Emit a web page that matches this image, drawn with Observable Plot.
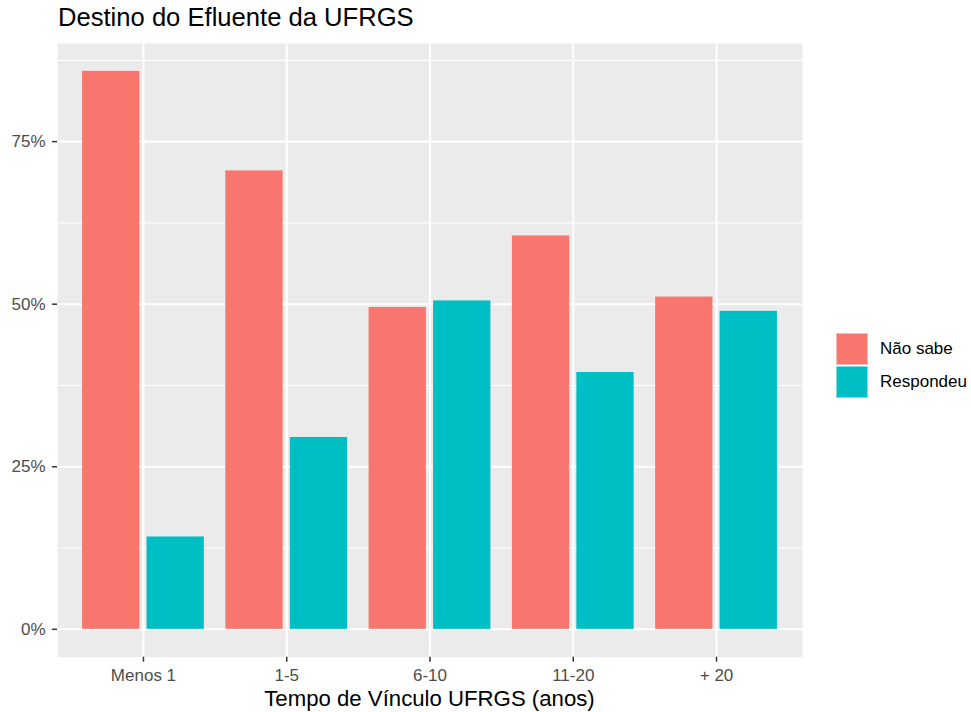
<!DOCTYPE html>
<html>
<head>
<meta charset="utf-8">
<script src="https://cdn.jsdelivr.net/npm/d3@7"></script>
<script src="https://cdn.jsdelivr.net/npm/@observablehq/plot@0.6"></script>
<style>
  body { margin: 0; background: #fff; font-family: "Liberation Sans", Arial, sans-serif; }
  #wrap { position: relative; width: 971px; height: 712px; overflow: hidden; }
  #title { height: 35px; line-height: 35px; padding-left: 58px; font-size: 25.6px; color: #000; white-space: nowrap; }
  #chart svg { display: block; }
  #xlabel { position: absolute; left: 57px; top: 686px; width: 745px; height: 26px; line-height: 26px; font-size: 22.2px; text-align: center; color: #000; white-space: nowrap; }
  #legend { position: absolute; left: 836px; top: 332px; }
  .item { display: flex; align-items: center; height: 33px; }
  .sw { width: 32px; height: 32px; box-sizing: border-box; border: 1px solid rgba(255,255,255,0.5); }
  .lab { margin-left: 12px; font-size: 17px; color: #000; white-space: nowrap; }
</style>
</head>
<body>
<div id="wrap">
  <div id="title"></div>
  <div id="chart"></div>
  <div id="xlabel"></div>
  <div id="legend"></div>
</div>
<script>
// ---- data ----
const titleText = "Destino do Efluente da UFRGS";
const xTitle = "Tempo de Vínculo UFRGS (anos)";
const categories = ["Menos 1", "1-5", "6-10", "11-20", "+ 20"];
const series = ["Não sabe", "Respondeu"];
const naoSabe = [85.8, 70.5, 49.5, 60.5, 51.1];
const respondeu = [14.2, 29.5, 50.5, 39.5, 48.9];
const yTicks = [0, 25, 50, 75];
const yMinor = [12.5, 37.5, 62.5, 87.5];
const colors = ["#F8766D", "#00BFC4"];

// ggplot-like dodge parameters (in category units)
const dodgeWidth = 0.9, barWidth = 0.8;

const values = [naoSabe, respondeu];
const rows = [];
categories.forEach((c, ci) => {
  series.forEach((s, si) => {
    rows.push({cat: c, pos: ci + 1, si, series: s, value: values[si][ci]});
  });
});
const nS = series.length;
const slot = dodgeWidth / nS;
const half = barWidth / nS / 2;
const center = d => d.pos + (d.si - (nS - 1) / 2) * slot;

const maxV = d3.max(rows, d => d.value);
const yDomain = [-0.05 * maxV, maxV * 1.05];
const xPositions = categories.map((c, i) => i + 1);

document.getElementById("title").textContent = titleText;
document.getElementById("xlabel").textContent = xTitle;

const plot = Plot.plot({
  width: 971,
  height: 651,
  marginTop: 8,
  marginBottom: 29.3,
  marginLeft: 57,
  marginRight: 169,
  style: {fontFamily: "Liberation Sans, Arial, sans-serif", background: "white"},
  x: {type: "linear", domain: [0.4, categories.length + 0.6]},
  y: {domain: yDomain},
  color: {domain: series, range: colors},
  marks: [
    Plot.frame({fill: "#EBEBEB", stroke: null}),
    Plot.gridY(yMinor, {stroke: "white", strokeOpacity: 1, strokeWidth: 1.1}),
    Plot.gridY(yTicks, {stroke: "white", strokeOpacity: 1, strokeWidth: 2.1}),
    Plot.gridX(xPositions, {stroke: "white", strokeOpacity: 1, strokeWidth: 2.1}),
    Plot.rect(rows, {
      x1: d => center(d) - half,
      x2: d => center(d) + half,
      y1: 0,
      y2: "value",
      fill: "series"
    }),
    Plot.axisY(yTicks, {
      tickFormat: d => d + "%",
      tickSize: 5,
      tickPadding: 7,
      fontSize: 17,
      fill: "#4D4D4D",
      stroke: "#333333",
      strokeWidth: 1.5,
      label: null
    }),
    Plot.axisX(xPositions, {
      tickFormat: i => categories[i - 1],
      tickSize: 5,
      tickPadding: 7,
      fontSize: 17,
      fill: "#4D4D4D",
      stroke: "#333333",
      strokeWidth: 1.5,
      label: null
    })
  ]
});
document.getElementById("chart").appendChild(plot);

// legend
const legend = document.getElementById("legend");
series.forEach((s, i) => {
  const item = document.createElement("div");
  item.className = "item";
  const sw = document.createElement("div");
  sw.className = "sw";
  sw.style.background = colors[i];
  const lab = document.createElement("span");
  lab.className = "lab";
  lab.textContent = s;
  item.appendChild(sw);
  item.appendChild(lab);
  legend.appendChild(item);
});
</script>
</body>
</html>
